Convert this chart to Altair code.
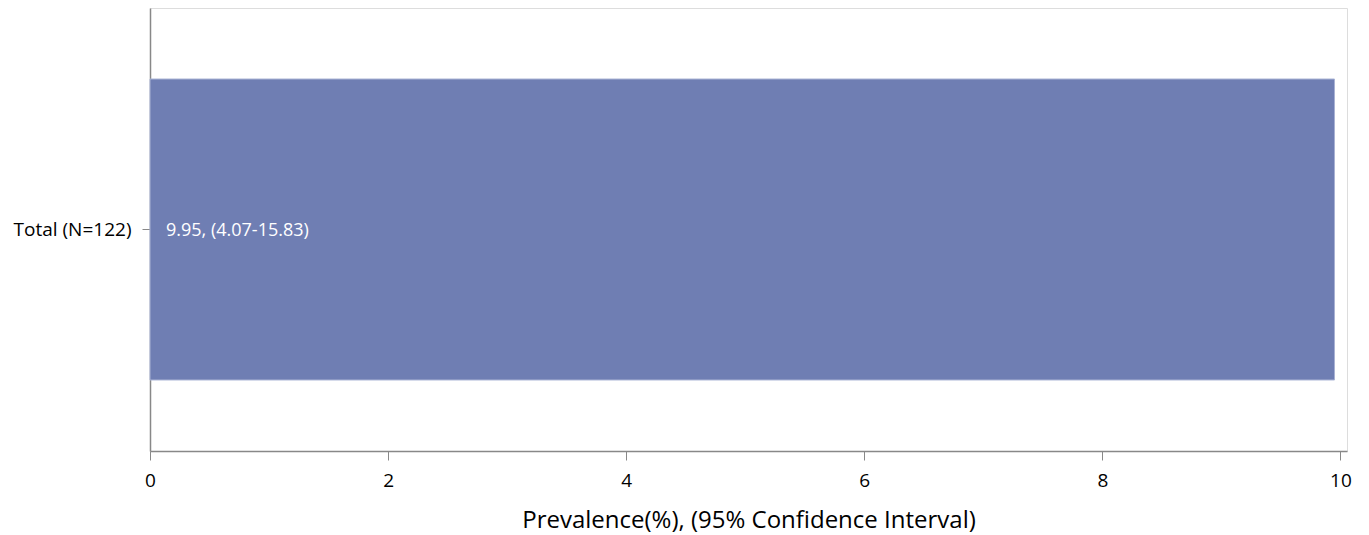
import altair as alt
import pandas as pd

categories = ["Total (N=122)"]
prevalence = [9.95]
ci_labels = ["9.95, (4.07-15.83)"]
x_ticks = [0, 2, 4, 6, 8, 10]

df = pd.DataFrame({"group": categories, "prev": prevalence, "label": ci_labels, "zero": [0] * len(categories)})

FONT = "Open Sans"

y_enc = alt.Y(
    "group:N",
    title=None,
    scale=alt.Scale(paddingInner=0, paddingOuter=0.236),
    axis=alt.Axis(
        labelFontSize=19, labelColor="#000000", labelFont=FONT,
        tickSize=8, tickColor="#888888", labelPadding=11,
        domainColor="#888888", domainWidth=1.5,
    ),
)

bars = alt.Chart(df).mark_bar(color="#6F7EB3", stroke="#A9B2D4", strokeWidth=1).encode(
    x=alt.X(
        "prev:Q",
        title="Prevalence(%), (95% Confidence Interval)",
        scale=alt.Scale(domain=[0, 10.055], nice=False, zero=True),
        axis=alt.Axis(
            values=x_ticks, format="d", labelFontSize=19, labelColor="#000000", labelFont=FONT,
            labelFlush=False, labelOverlap=False,
            tickSize=9, tickColor="#888888", labelPadding=11,
            domainColor="#888888", domainWidth=1.5, grid=False,
            titleFontSize=24, titleFont=FONT, titleFontWeight="normal", titleColor="#000000",
            titlePadding=18,
        ),
    ),
    y=y_enc,
)

texts = alt.Chart(df).mark_text(
    align="left", baseline="middle", dx=16, dy=1, color="#FFFFFF", fontSize=18, font=FONT
).encode(
    x=alt.X("zero:Q"),
    y=alt.Y("group:N"),
    text="label:N",
)

chart = (bars + texts).properties(
    width=1197,
    height=443,
    autosize=alt.AutoSizeParams(type="none"),
    padding={"left": 142, "top": 0, "right": 10, "bottom": 83},
).configure_view(
    stroke="#A0A0A0", strokeWidth=1.5
).configure(background="#ffffff")

chart.save("out.html", embed_options={"renderer": "svg", "actions": False})
